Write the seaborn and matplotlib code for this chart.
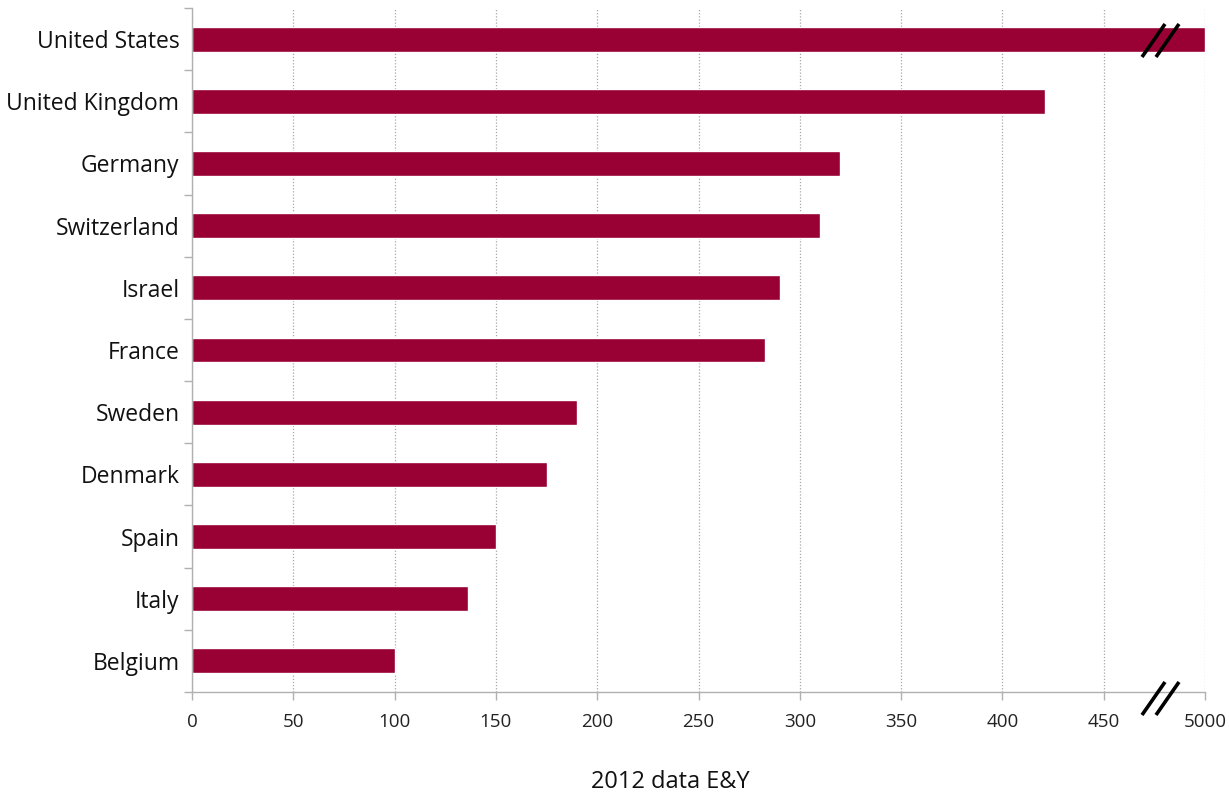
import matplotlib
matplotlib.use("Agg")
import matplotlib.pyplot as plt
import seaborn as sns
import pandas as pd

countries = ["United States", "United Kingdom", "Germany", "Switzerland", "Israel",
             "France", "Sweden", "Denmark", "Spain", "Italy", "Belgium"]
values = [500, 421, 320, 310, 290, 283, 190, 175, 150, 136, 100]
xticks = [0, 50, 100, 150, 200, 250, 300, 350, 400, 450, 500]
xtick_labels = ["0", "50", "100", "150", "200", "250", "300", "350", "400", "450", "5000"]
xlabel = "2012 data E&Y"

sns.set_style("white")
plt.rcParams["font.family"] = ["Open Sans", "DejaVu Sans"]

df = pd.DataFrame({"country": countries, "value": values})

fig = plt.figure(figsize=(12.29, 7.95), dpi=100)
ax = fig.add_axes([192/1229, 1 - 692/795, 1013/1229, 684/795])

sns.barplot(data=df, x="value", y="country", color="#990033", saturation=1,
            width=0.4, ax=ax, orient="h")

ax.set_xlim(0, 500)
ax.set_ylim(len(countries) - 0.5, -0.5)
ax.set_xticks(xticks)
ax.set_xticklabels(xtick_labels, fontsize=13.5, color="#222222")
ax.tick_params(axis="x", bottom=True, length=6, color="#B0B0B0", width=1, pad=9)
ax.set_yticks(range(len(countries)))
ax.set_yticklabels(countries, fontsize=16.5, color="#111111")
ax.tick_params(axis="y", which="major", left=True, length=0, pad=9)
# minor ticks at category boundaries
ax.set_yticks([i + 0.5 for i in range(-1, len(countries))], minor=True)
ax.tick_params(axis="y", which="minor", left=True, length=6, color="#B0B0B0", width=1)

ax.set_xlabel("")
ax.set_ylabel("")
fig.text(670 / 1229, 1 - 782 / 795, xlabel, fontsize=17, color="#111111",
         ha="center", va="center")

ax.xaxis.grid(True, linestyle=(0, (1, 1.5)), color="#A8A8A8", linewidth=0.9)
ax.set_axisbelow(True)
for s in ["top", "right"]:
    ax.spines[s].set_visible(False)
for s in ["left", "bottom"]:
    ax.spines[s].set_color("#B0B0B0")
    ax.spines[s].set_linewidth(1)

# axis break marks
W, H = 1229, 795
for (x0, y0, x1, y1) in [(1142, 57, 1165, 24), (1156, 57, 1179, 24),
                         (1142, 715, 1165, 682), (1156, 715, 1179, 682)]:
    ln = plt.Line2D([x0 / W, x1 / W], [1 - y0 / H, 1 - y1 / H], transform=fig.transFigure,
                    color="black", linewidth=2.6, solid_capstyle="butt")
    fig.add_artist(ln)

fig.savefig("out.png", dpi=100)
